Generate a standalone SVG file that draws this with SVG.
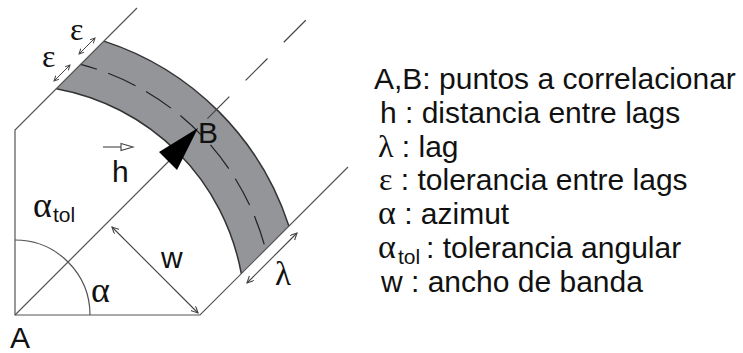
<svg xmlns="http://www.w3.org/2000/svg" width="743" height="353" viewBox="0 0 743 353">
<style>
.ln{stroke:#555;stroke-width:1.2;fill:none}
.dk{stroke:#333;stroke-width:1.5;fill:none}
.sans{font-family:"Liberation Sans",Arial,sans-serif;fill:#111}
.ser{font-family:"Liberation Serif","Times New Roman",serif;fill:#111}
.leg{font-size:30px}
.dbl{stroke:#444;stroke-width:1.1;fill:none;marker-start:url(#oa);marker-end:url(#oa)}
</style>
<defs>
<marker id="oa" markerUnits="userSpaceOnUse" markerWidth="10" markerHeight="10" refX="7" refY="3.5" orient="auto-start-reverse" viewBox="0 0 10 10">
<path d="M0,0 L7,3.5 L0,7" fill="none" stroke="#444" stroke-width="1.1"/>
</marker>
<marker id="os" markerUnits="userSpaceOnUse" markerWidth="8" markerHeight="8" refX="5" refY="2.5" orient="auto-start-reverse" viewBox="0 0 8 8">
<path d="M0,0 L5,2.5 L0,5" fill="none" stroke="#444" stroke-width="1"/>
</marker>
</defs>
<rect width="743" height="353" fill="#fff"/>

<g id="band">
<path d="M56.3,88.7 A230,230 0 0 1 241.3,273.7 L288.9,226.1 A288,288 0 0 0 103.9,41.1 Z" fill="#939598" stroke="none"/>
<path class="dk" d="M56.3,88.7 A230,230 0 0 1 241.3,273.7"/>
<path class="dk" d="M103.9,41.1 A288,288 0 0 1 288.9,226.1"/>
<path d="M80.6,64.4 A259,259 0 0 1 265.6,249.4" fill="none" stroke="#222" stroke-width="1.2" stroke-dasharray="30 12" stroke-dashoffset="13"/>
</g>

<g id="frame">
<path class="ln" d="M137,8 L15,130 L15,315 L200,315 L348,167"/>
<path class="ln" d="M15,315 L170,160"/>
<line x1="206" y1="120" x2="310" y2="16" stroke="#444" stroke-width="1.2" stroke-dasharray="31 23" stroke-dashoffset="-2"/>
<path class="ln" d="M15,240 A75,75 0 0 1 90,315"/>
</g>

<g id="connectors">
<path d="M198,128 L159,152 L177,170 Z" fill="#000"/>
<line class="dbl" x1="112" y1="227" x2="198" y2="313"/>
<line class="dbl" x1="247" y1="283" x2="297" y2="233"/>
<line x1="79" y1="54" x2="95" y2="38" stroke="#444" stroke-width="1" marker-start="url(#os)" marker-end="url(#os)"/>
<line x1="54" y1="81" x2="70" y2="65" stroke="#444" stroke-width="1" marker-start="url(#os)" marker-end="url(#os)"/>
<line x1="103" y1="147" x2="122" y2="147" stroke="#444" stroke-width="1.1"/>
<path d="M121,143.5 L133,147 L121,150.5 Z" fill="#fff" stroke="#444" stroke-width="1.1"/>
</g>

<g id="A"><text class="sans" x="10" y="348" font-size="30">A</text></g>
<g id="B"><text class="sans" x="198" y="143" font-size="30">B</text></g>
<g id="labels">
<text class="sans" x="112" y="182" font-size="30">h</text>
<text class="sans" x="161" y="268" font-size="30">w</text>
<text class="ser" x="275" y="285" font-size="33">λ</text>
<text class="ser" x="91" y="302" font-size="36">α</text>
<text class="ser" x="33" y="217" font-size="36">α</text>
<text class="sans" x="53" y="222" font-size="21">tol</text>
<text class="ser" x="70" y="40" font-size="32">ε</text>
<text class="ser" x="42" y="67" font-size="32">ε</text>
</g>

<g id="legend">
<text class="sans leg" x="374" y="89">A,B: puntos a correlacionar</text>
<text class="sans leg" x="380" y="123">h : distancia entre lags</text>
<text class="leg" x="378" y="157"><tspan class="ser" font-size="32">λ</tspan><tspan class="sans"> : lag</tspan></text>
<text class="leg" x="379" y="190"><tspan class="ser" font-size="32">ε</tspan><tspan class="sans"> : tolerancia entre lags</tspan></text>
<text class="leg" x="378" y="224"><tspan class="ser" font-size="34">α</tspan><tspan class="sans"> : azimut</tspan></text>
<text class="ser" x="378" y="258" font-size="34">α</text>
<text class="sans" x="398" y="264" font-size="21">tol</text>
<text class="sans leg" x="426" y="258">: tolerancia angular</text>
<text class="sans leg" x="381" y="292">w : ancho de banda</text>
</g>
</svg>
